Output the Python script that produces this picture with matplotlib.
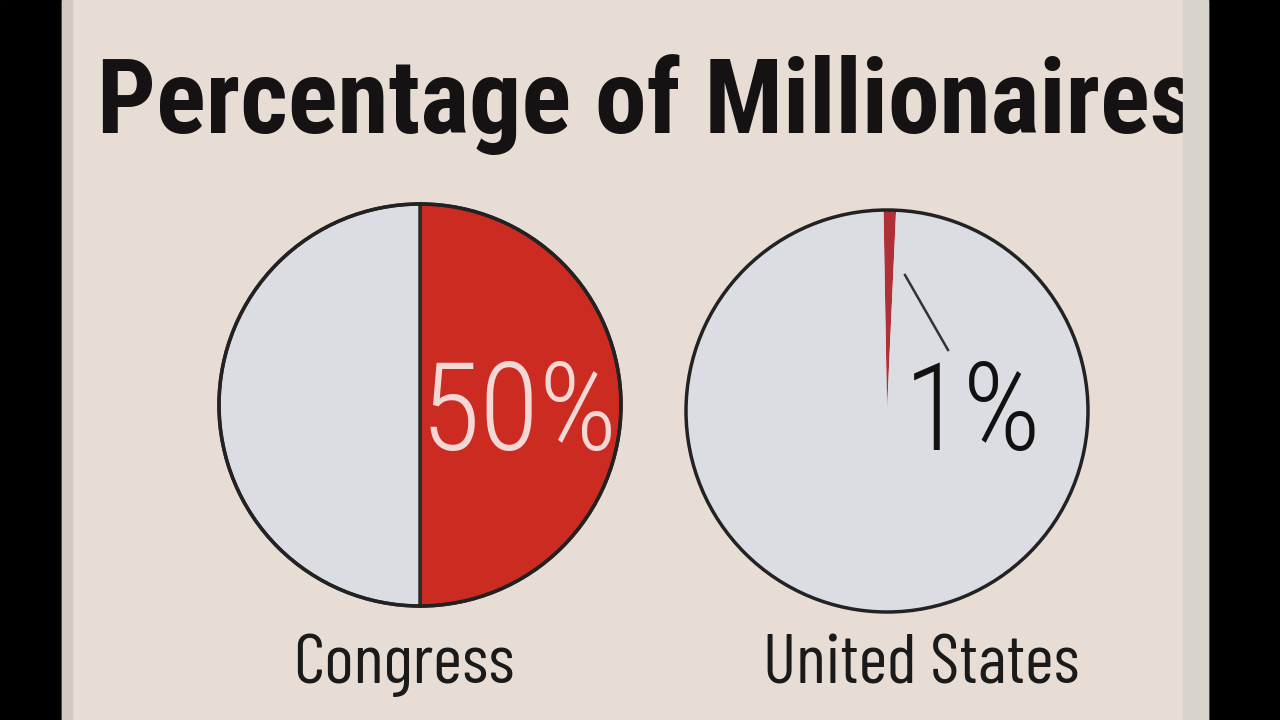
import matplotlib.pyplot as plt
from matplotlib.patches import Rectangle, Circle

# data
groups = ["Congress", "United States"]
millionaire_pct = [50, 1]
pct_labels = ["50%", "1%"]
title = "Percentage of Millionaires"

paper = "#e7ddd5"
grey = "#dcdde3"
reds = ["#cc2b22", "#b03039"]
bold_font = ["Roboto Condensed", "DejaVu Sans"]
cond = ["Barlow Condensed", "DejaVu Sans"]

fig = plt.figure(figsize=(12.8, 7.2), dpi=100)
ax = fig.add_axes([0, 0, 1, 1])

# photo frame: black sides, paper in the middle
ax.add_patch(Rectangle((0, 0), 1280, 720, color="black", zorder=0))
sheet = Rectangle((62, 0), 1146, 720, color=paper, zorder=0)
ax.add_patch(sheet)
ax.add_patch(Rectangle((62, 0), 10, 720, color="#d2cac2", zorder=0))
ax.add_patch(Rectangle((1183, 0), 25, 720, color="#d9d3cd", zorder=5))

t_title = ax.text(97, 587, title, fontsize=76, fontweight="bold", family=bold_font,
                  color="#141212", ha="left", va="baseline", zorder=4)
t_title.set_clip_path(sheet)

centers = [(420, 315), (887, 309)]
r = 201
starts = [90, 91]
for i, (cx, cy) in enumerate(centers):
    p = millionaire_pct[i]
    ec = "#2a2a2a" if i == 0 else "none"
    ax.pie([p, 100 - p], colors=[reds[i], grey], startangle=starts[i],
           counterclock=False, center=(cx, cy), radius=r,
           wedgeprops=dict(edgecolor=ec, linewidth=2.5), frame=True)
    ax.add_patch(Circle((cx, cy), r, fill=False, ec="#222222", lw=2.5, zorder=3))

ax.set_xlim(0, 1280)
ax.set_ylim(0, 720)
ax.set_aspect("auto")
ax.axis("off")

ax.text(519.5, 270, pct_labels[0], fontsize=88, fontweight="light", family=bold_font,
        color="#f4d8d6", ha="center", va="baseline", zorder=4)
ax.text(973, 270, pct_labels[1], fontsize=88, fontweight="light", family=bold_font,
        color="#111111", ha="center", va="baseline", zorder=4)
ax.plot([905, 948], [445, 370], color="#333333", lw=1.8, zorder=4)

tc = ax.text(404, 37, groups[0], fontsize=54, family=cond, color="#1a1a1a",
             ha="center", va="baseline", zorder=4)
tu = ax.text(921.5, 37, groups[1], fontsize=54, family=cond, color="#1a1a1a",
             ha="center", va="baseline", zorder=4)

# size texts to the widths seen in the picture
fig.canvas.draw()
rend = fig.canvas.get_renderer()
for t, w in [(t_title, 1098), (tc, 222), (tu, 317)]:
    cur = t.get_window_extent(rend).width
    t.set_fontsize(t.get_fontsize() * w / cur)

fig.savefig("out.png", dpi=100)
